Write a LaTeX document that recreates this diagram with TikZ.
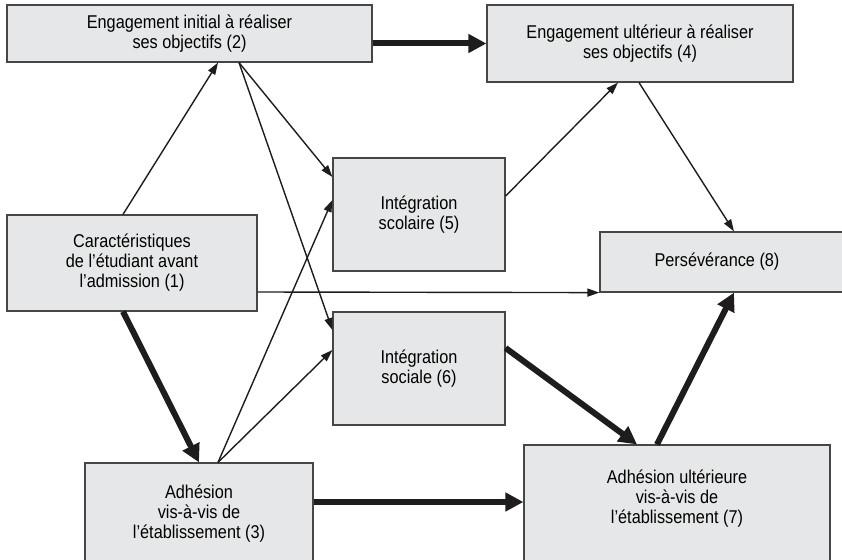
\documentclass[tikz,border=0pt]{standalone}
\usepackage{fontspec}
\setmainfont{Liberation Sans}[FakeStretch=0.88]
\usetikzlibrary{arrows.meta}
\definecolor{fondo}{RGB}{230,231,232}
\definecolor{bordo}{RGB}{70,70,70}
\definecolor{freccia}{RGB}{30,28,29}

\begin{document}
\begin{tikzpicture}[x=1pt, y=-1pt,
		blocco/.style={draw=bordo, line width=1.2pt, fill=fondo, align=center, inner sep=0pt, font=\fontsize{18.5}{20}\selectfont},
		debole/.style={draw=freccia, line width=1.4pt, -{Triangle[length=12pt, width=8pt]}},
		forte/.style={draw=freccia, line width=6pt, -{Triangle[length=18pt, width=18pt]}}]
			\clip (0, 0) rectangle (842, 559);
			% blocchi in alto
			\node[blocco, minimum width=365pt, minimum height=57pt] (engIni) at (189.5, 33.5) {Engagement initial à réaliser\\ses objectifs (2)};
			\node[blocco, minimum width=306pt, minimum height=77pt] (engUlt) at (640, 43.5) {Engagement ultérieur à réaliser\\ses objectifs (4)};
			% blocchi centrali
			\node[blocco, minimum width=250pt, minimum height=96pt] (car) at (132, 263) {Caractéristiques\\de l’étudiant avant\\l’admission (1)};
			\node[blocco, minimum width=172pt, minimum height=113pt] (intScol) at (419, 214.5) {Intégration\\scolaire (5)};
			\node[blocco, minimum width=172pt, minimum height=113pt] (intSoc) at (419, 368.5) {Intégration\\sociale (6)};
			\node[blocco, minimum width=260pt, minimum height=60pt] (pers) at (730, 262) {Persévérance (8)\hspace*{26pt}};
			% blocchi in basso
			\node[blocco, minimum width=228pt, minimum height=102pt] (adhIni) at (199, 514) {Adhésion\\vis-à-vis de\\l’établissement (3)};
			\node[blocco, minimum width=306pt, minimum height=130pt] (adhUlt) at (677, 510) {Adhésion ultérieure\\vis-à-vis de\\l’établissement (7)\\[6pt]\mbox{}};
			% frecce sottili
			\draw[debole] ([xshift=-9pt]car.north) -- ([xshift=28.5pt]engIni.south);
			\draw[debole] ([xshift=49.5pt]engIni.south) -- ([yshift=37.5pt]intScol.west);
			\draw[debole] ([xshift=49.5pt]engIni.south) -- ([yshift=38.5pt]intSoc.west);
			\draw[debole] ([yshift=18.5pt]intScol.east) -- ([xshift=-22pt]engUlt.south);
			\draw[debole] ([xshift=-1pt]engUlt.south) -- ([xshift=4pt]pers.north);
			\draw[debole] ([yshift=-29pt]car.east) -- (pers.south west);
			\draw[debole] ([xshift=19pt]adhIni.north) -- ([yshift=14.5pt]intScol.west);
			\draw[debole] ([xshift=19pt]adhIni.north) -- ([yshift=18.5pt]intSoc.west);
			% frecce spesse
			\draw[forte] (engIni.east |- engUlt.west) -- (engUlt.west);
			\draw[forte] ([xshift=-9pt]car.south) -- (adhIni.north);
			\draw[forte] ([yshift=20.5pt]intSoc.east) -- ([xshift=-40pt]adhUlt.north);
			\draw[forte] ([xshift=-20pt]adhUlt.north) -- ([xshift=4pt]pers.south);
			\coordinate (ponte) at ([yshift=12pt]adhIni.east);
			\draw[forte] (ponte) -- (ponte -| adhUlt.west);
\end{tikzpicture}
\end{document}
